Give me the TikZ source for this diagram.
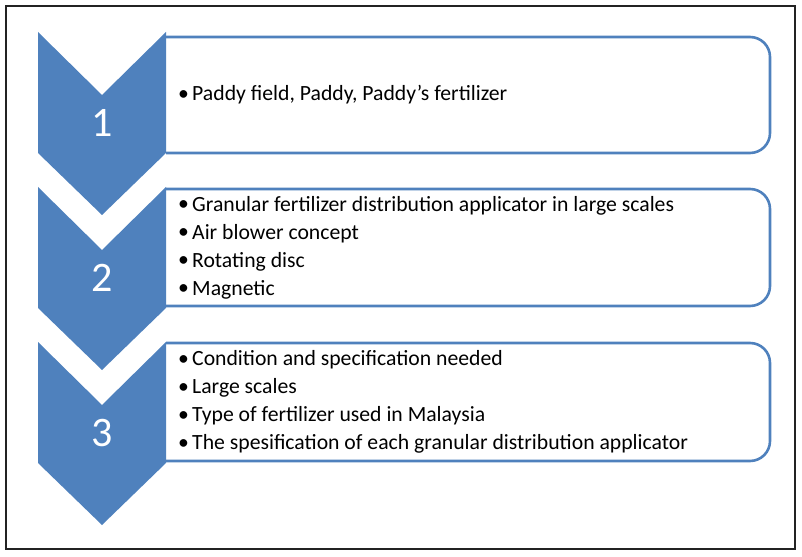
\documentclass[tikz,border=0pt]{standalone}
\usepackage{fontspec}
\setmainfont{Carlito}
\definecolor{chevblue}{RGB}{79,129,189}
\definecolor{framegray}{RGB}{35,35,35}
\begin{document}
\begin{tikzpicture}[x=1bp,y=-1bp,
  chev/.style={fill=chevblue,draw=none},
  listbox/.style={draw=chevblue,line width=2.6bp,fill=white,rounded corners=20bp},
  numtxt/.style={text=white,font=\fontsize{42bp}{42bp}\selectfont,inner sep=0pt},
  itemtxt/.style={anchor=west,align=left,inner sep=0pt,font=\fontsize{21.7bp}{28bp}\selectfont}]
\useasboundingbox (0,0) rectangle (802,557);
\draw[framegray,line width=1.3bp] (6,6) rectangle (795,549);
\newcommand{\bul}{\makebox[14bp][l]{\raisebox{0.5bp}{\textbullet}}}
% boxes
\draw[listbox] (166,37) -- (770,37) -- (770,153) -- (166,153);
\draw[listbox] (166,189) -- (770,189) -- (770,306) -- (166,306);
\draw[listbox] (166,343) -- (770,343) -- (770,461) -- (166,461);
% chevrons
\foreach \t in {32,187,342}{
  \path[chev] (38,\t) -- (102,\t+63) -- (166,\t) -- (166,\t+121) -- (102,\t+183) -- (38,\t+121) -- cycle;
}
\node[numtxt] (n1) at (102,123) {1};
\node[numtxt] (n2) at (102,278) {2};
\node[numtxt] (n3) at (102,433) {3};
\node[itemtxt] (t1) at (178,95) {\bul Paddy field, Paddy, Paddy’s fertilizer};
\node[itemtxt] (t2) at (178,247.5) {\bul Granular fertilizer distribution applicator in large scales\\
\bul Air blower concept\\ \bul Rotating disc\\ \bul Magnetic};
\node[itemtxt] (t3) at (178,402) {\bul Condition and specification needed\\
\bul Large scales\\ \bul Type of fertilizer used in Malaysia\\
\bul The spesification of each granular distribution applicator};
\end{tikzpicture}
\end{document}
